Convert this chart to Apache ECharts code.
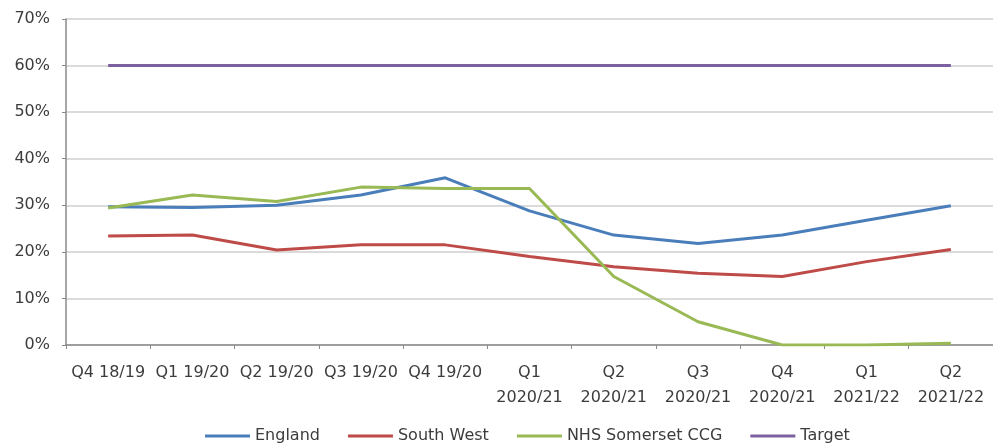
<!DOCTYPE html>
<html>
<head>
<meta charset="utf-8">
<script src="https://cdn.jsdelivr.net/npm/echarts@6/dist/echarts.min.js"></script>
<style>
  html, body { margin: 0; padding: 0; background: #fff; }
  #chart { width: 993px; height: 445px; }
</style>
</head>
<body>
<div id="chart"></div>
<script>
// Quarterly categories
const categories = [
  'Q4 18/19', 'Q1 19/20', 'Q2 19/20', 'Q3 19/20', 'Q4 19/20',
  'Q1\n2020/21', 'Q2\n2020/21', 'Q3\n2020/21', 'Q4\n2020/21',
  'Q1\n2021/22', 'Q2\n2021/22'
];

// Percentages per quarter
const england     = [29.7, 29.5, 30.0, 32.2, 35.9, 28.8, 23.6, 21.8, 23.6, 26.8, 29.9];
const southWest   = [23.4, 23.6, 20.4, 21.5, 21.5, 19.0, 16.8, 15.4, 14.7, 17.9, 20.5];
const somersetCcg = [29.4, 32.2, 30.8, 33.9, 33.6, 33.6, 14.7, 5.0, 0.0, 0.0, 0.4];
const target      = [60, 60, 60, 60, 60, 60, 60, 60, 60, 60, 60];

// Y-axis scale
const yMin = 0, yMax = 70, yStep = 10;

const font = 'DejaVu Sans';
const textColor = '#3c3c3c';

function lineSeries(name, data, color) {
  return {
    name: name,
    type: 'line',
    data: data,
    symbol: 'none',
    lineStyle: { color: color, width: 3 },
    itemStyle: { color: color },
    animation: false
  };
}

const chart = echarts.init(document.getElementById('chart'));
chart.setOption({
  backgroundColor: '#ffffff',
  textStyle: { fontFamily: font },
  grid: { left: 66, top: 19, width: 931, height: 326, containLabel: false },
  legend: {
    left: 200,
    top: 423,
    itemWidth: 45,
    itemHeight: 3,
    itemGap: 28,
    icon: 'rect',
    textStyle: { fontFamily: font, fontSize: 16, color: textColor },
    data: ['England', 'South West', 'NHS Somerset CCG', 'Target']
  },
  xAxis: {
    type: 'category',
    data: categories,
    boundaryGap: true,
    axisLine: { lineStyle: { color: '#8a8a8a', width: 1.5 } },
    axisTick: { show: true, length: 4, lineStyle: { color: '#8a8a8a' } },
    axisLabel: {
      interval: 0,
      margin: 15,
      fontFamily: font,
      fontSize: 16,
      lineHeight: 25,
      color: textColor
    },
    splitLine: { show: false }
  },
  yAxis: {
    type: 'value',
    min: yMin,
    max: yMax,
    interval: yStep,
    axisLine: { show: true, lineStyle: { color: '#8a8a8a', width: 1.5 } },
    axisTick: { show: true, length: 4, lineStyle: { color: '#8a8a8a' } },
    axisLabel: {
      margin: 16,
      fontFamily: font,
      fontSize: 16,
      color: textColor,
      formatter: v => v + '%'
    },
    splitLine: { show: true, lineStyle: { color: '#cfcfcf', width: 1.5 } }
  },
  series: [
    lineSeries('England', england, '#4a7ebb'),
    lineSeries('South West', southWest, '#be4b48'),
    lineSeries('NHS Somerset CCG', somersetCcg, '#98b954'),
    lineSeries('Target', target, '#7d60a0')
  ]
});
</script>
</body>
</html>
